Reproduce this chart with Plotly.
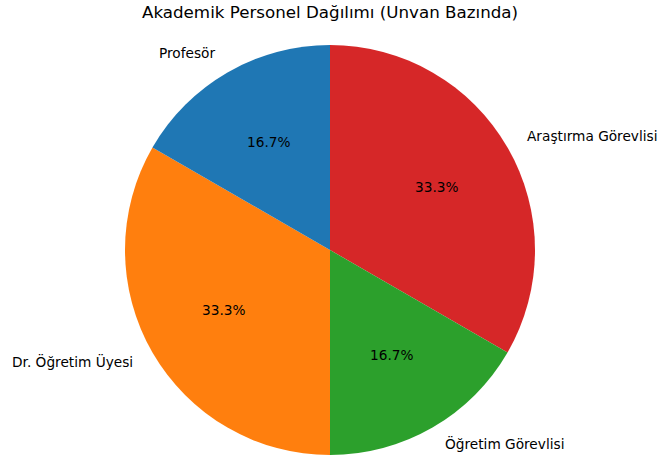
import math
import plotly.graph_objects as go

labels = ["Profesör", "Dr. Öğretim Üyesi", "Öğretim Görevlisi", "Araştırma Görevlisi"]
values = [1, 2, 1, 2]
colors = ["#1f77b4", "#ff7f0e", "#2ca02c", "#d62728"]
title = "Akademik Personel Dağılımı (Unvan Bazında)"

W, H = 659, 460
cx, cy, R = 330, 250, 205  # pie centre / radius in pixels (from top-left)

# matplotlib draws counterclockwise from 12 o'clock; equivalently plotly clockwise with reversed order
fig = go.Figure()
fig.add_trace(go.Pie(
    labels=labels[::-1], values=values[::-1], sort=False, direction="clockwise",
    rotation=0, marker=dict(colors=colors[::-1], line=dict(width=0)),
    textinfo="none", hoverinfo="label+percent", showlegend=False,
    domain=dict(x=[(cx - R) / W, (cx + R) / W],
                y=[(H - cy - R) / H, (H - cy + R) / H]),
))

font = "DejaVu Sans"
total = sum(values)
ann = []
start = 90.0
dy = -1.5  # small vertical text offset (px)
for lab, v in zip(labels, values):
    span = 360.0 * v / total
    mid = math.radians(start + span / 2)
    start += span
    # outer label
    lx = cx + 1.1 * R * math.cos(mid)
    ly = cy - 1.1 * R * math.sin(mid) + dy
    ann.append(dict(x=lx / W, y=1 - ly / H, xref="paper", yref="paper",
                    text=lab, showarrow=False,
                    xanchor="left" if math.cos(mid) >= 0 else "right",
                    yanchor="middle", font=dict(family=font, size=13.7, color="#000")))
    # percentage
    px = cx + 0.6 * R * math.cos(mid)
    py = cy - 0.6 * R * math.sin(mid) + dy
    ann.append(dict(x=px / W, y=1 - py / H, xref="paper", yref="paper",
                    text=f"{100 * v / total:.1f}%", showarrow=False,
                    xanchor="center", yanchor="middle",
                    font=dict(family=font, size=13.7, color="#000")))

ann.append(dict(x=330 / W, y=1 - 12 / H, xref="paper", yref="paper", text=title,
                showarrow=False, xanchor="center", yanchor="middle",
                font=dict(family=font, size=16.7, color="#000")))

fig.update_layout(width=W, height=H, margin=dict(l=0, r=0, t=0, b=0),
                  paper_bgcolor="white", plot_bgcolor="white", annotations=ann)
fig.write_html("out.html")
